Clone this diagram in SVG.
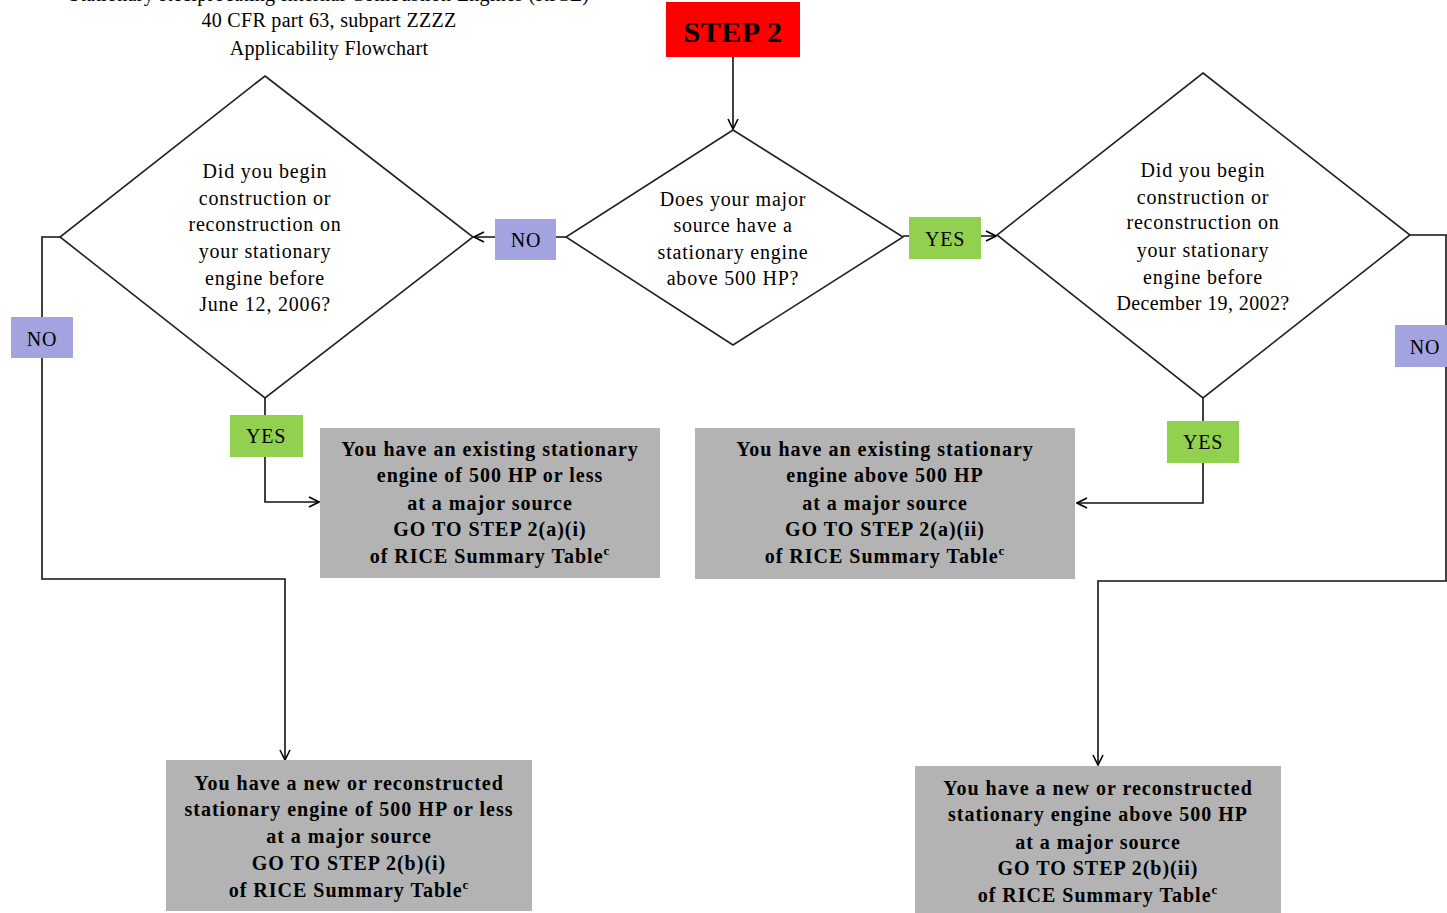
<svg xmlns="http://www.w3.org/2000/svg" width="1447" height="913" viewBox="0 0 1447 913">
<defs>
<marker id="arr" viewBox="0 0 12 12" refX="11" refY="6" markerWidth="12" markerHeight="12" markerUnits="userSpaceOnUse" orient="auto">
<path d="M1,1 L11,6 L1,11" fill="none" stroke="#000" stroke-width="1.6"/>
</marker>
<style>
.t{font-family:"Liberation Serif","Times New Roman",serif;font-size:20px;letter-spacing:0.8px;fill:#000;text-anchor:middle}
.b{font-family:"Liberation Serif","Times New Roman",serif;font-size:20px;letter-spacing:1px;font-weight:bold;fill:#000;text-anchor:middle}
.dia{fill:#fff;stroke:#222;stroke-width:1.6}
.box{fill:#b3b3b3;stroke:none}
.no{fill:#a3a3e0}
.yes{fill:#92d050}
.c{fill:none;stroke:#111;stroke-width:1.6}
</style>
</defs>
<rect width="1447" height="913" fill="#fff"/>
<g id="title">
<text class="t" x="329" y="1" style="letter-spacing:0.3px">Stationary Reciprocating Internal Combustion Engines (RICE)</text>
<text class="t" x="329" y="27" style="letter-spacing:0.3px">40 CFR part 63, subpart ZZZZ</text>
<text class="t" x="329" y="55" style="letter-spacing:0.3px">Applicability Flowchart</text>
</g>
<g id="connectors">
<line class="c" x1="733" y1="57" x2="733" y2="129" marker-end="url(#arr)"/>
<line class="c" x1="566" y1="237" x2="474" y2="237" marker-end="url(#arr)"/>
<line class="c" x1="903" y1="236" x2="996" y2="236" marker-end="url(#arr)"/>
<polyline class="c" points="265,398 265,502 319,502" marker-end="url(#arr)"/>
<polyline class="c" points="60,237 42,237 42,579 285,579 285,760" marker-end="url(#arr)"/>
<polyline class="c" points="1203,398 1203,503 1077,503" marker-end="url(#arr)"/>
<polyline class="c" points="1410,235 1446,235 1446,581 1098,581 1098,765" marker-end="url(#arr)"/>
</g>
<g id="step2">
<rect x="666" y="2" width="134" height="55" fill="#ff0000"/>
<text class="b" x="733" y="42" style="font-size:30px;letter-spacing:0.5px">STEP 2</text>
</g>
<g id="q-center">
<polygon class="dia" points="733,130 903,237 733,345 566,237"/>
<text class="t" x="733" y="206">Does your major</text>
<text class="t" x="733" y="232">source have a</text>
<text class="t" x="733" y="259">stationary engine</text>
<text class="t" x="733" y="285">above 500 HP?</text>
</g>
<g id="q-left">
<polygon class="dia" points="265,76 473,237 265,398 60,237"/>
<text class="t" x="265" y="178">Did you begin</text>
<text class="t" x="265" y="205">construction or</text>
<text class="t" x="265" y="231">reconstruction on</text>
<text class="t" x="265" y="258">your stationary</text>
<text class="t" x="265" y="285">engine before</text>
<text class="t" x="265" y="311">June 12, 2006?</text>
</g>
<g id="q-right">
<polygon class="dia" points="1203,73 1410,235 1203,398 997,235"/>
<text class="t" x="1203" y="177">Did you begin</text>
<text class="t" x="1203" y="204">construction or</text>
<text class="t" x="1203" y="229">reconstruction on</text>
<text class="t" x="1203" y="257">your stationary</text>
<text class="t" x="1203" y="284">engine before</text>
<text class="t" x="1203" y="310" style="letter-spacing:0.4px">December 19, 2002?</text>
</g>
<g id="lbl-no-center">
<rect class="no" x="495" y="219" width="61" height="41"/>
<text class="t" x="526" y="247">NO</text>
</g>
<g id="lbl-yes-center">
<rect class="yes" x="909" y="217" width="72" height="42"/>
<text class="t" x="945" y="246">YES</text>
</g>
<g id="lbl-no-left">
<rect class="no" x="11" y="317" width="62" height="41"/>
<text class="t" x="42" y="346">NO</text>
</g>
<g id="lbl-yes-left">
<rect class="yes" x="230" y="415" width="73" height="42"/>
<text class="t" x="266" y="443">YES</text>
</g>
<g id="lbl-no-right">
<rect class="no" x="1395" y="325" width="52" height="42"/>
<text class="t" x="1425" y="354">NO</text>
</g>
<g id="lbl-yes-right">
<rect class="yes" x="1167" y="421" width="72" height="42"/>
<text class="t" x="1203" y="449">YES</text>
</g>
<g id="box-2ai">
<rect class="box" x="320" y="428" width="340" height="150"/>
<text class="b" x="490" y="456">You have an existing stationary</text>
<text class="b" x="490" y="482">engine of 500 HP or less</text>
<text class="b" x="490" y="510">at a major source</text>
<text class="b" x="490" y="536">GO TO STEP 2(a)(i)</text>
<text class="b" x="490" y="563">of RICE Summary Table<tspan style="font-size:13px" dy="-8">c</tspan></text>
</g>
<g id="box-2aii">
<rect class="box" x="695" y="428" width="380" height="151"/>
<text class="b" x="885" y="456">You have an existing stationary</text>
<text class="b" x="885" y="482">engine above 500 HP</text>
<text class="b" x="885" y="510">at a major source</text>
<text class="b" x="885" y="536">GO TO STEP 2(a)(ii)</text>
<text class="b" x="885" y="563">of RICE Summary Table<tspan style="font-size:13px" dy="-8">c</tspan></text>
</g>
<g id="box-2bi">
<rect class="box" x="166" y="760" width="366" height="151"/>
<text class="b" x="349" y="790">You have a new or reconstructed</text>
<text class="b" x="349" y="816">stationary engine of 500 HP or less</text>
<text class="b" x="349" y="843">at a major source</text>
<text class="b" x="349" y="870">GO TO STEP 2(b)(i)</text>
<text class="b" x="349" y="897">of RICE Summary Table<tspan style="font-size:13px" dy="-8">c</tspan></text>
</g>
<g id="box-2bii">
<rect class="box" x="915" y="766" width="366" height="147"/>
<text class="b" x="1098" y="795">You have a new or reconstructed</text>
<text class="b" x="1098" y="821">stationary engine above 500 HP</text>
<text class="b" x="1098" y="849">at a major source</text>
<text class="b" x="1098" y="875">GO TO STEP 2(b)(ii)</text>
<text class="b" x="1098" y="902">of  RICE Summary Table<tspan style="font-size:13px" dy="-8">c</tspan></text>
</g>
</svg>
